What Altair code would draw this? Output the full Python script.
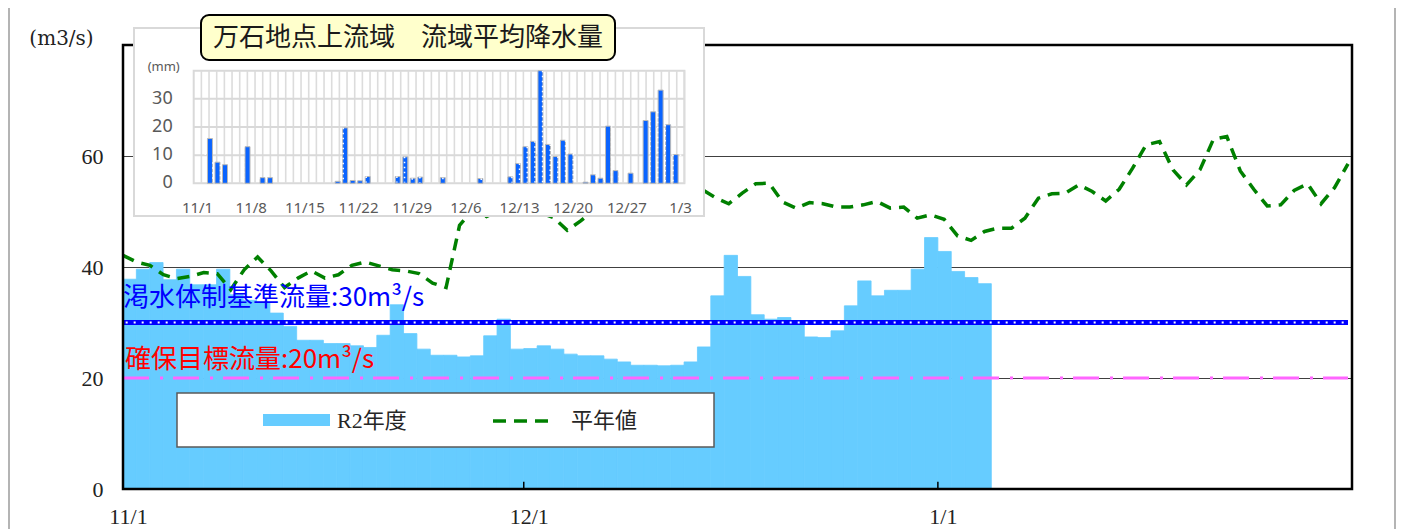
import altair as alt
import pandas as pd

W, H = 1229, 444

# ---- main chart data (daily flow, m3/s), 11/1 .. 1/4
flow_r2 = [37.8, 39.6, 40.8, 37.7, 39.6, 36.8, 36.8, 39.6, 35.0, 34.0,
           33.5, 31.7, 29.3, 26.8, 26.8, 26.2, 26.2, 25.8, 25.5, 27.7,
           33.2, 28.0, 25.2, 24.1, 24.1, 23.8, 24.0, 27.6, 30.6, 25.2,
           25.3, 25.8, 25.2, 24.3, 24.0, 24.0, 23.4, 22.9, 22.3, 22.3,
           22.2, 22.3, 22.9, 25.6, 34.8, 42.1, 38.3, 31.4, 30.6, 30.9,
           30.2, 27.4, 27.3, 28.5, 33.0, 37.5, 34.8, 35.8, 35.8, 39.6,
           45.3, 42.8, 39.2, 38.1, 37.0]

# ---- normal-year flow (平年値), 11/1 .. 1/31
normal = [42.1, 40.9, 40.3, 38.6, 37.9, 38.3, 39.0, 38.8, 35.9, 39.5,
          41.8, 39.3, 36.3, 38.0, 39.3, 38.0, 38.6, 40.3, 40.9, 40.2,
          39.5, 39.3, 38.8, 37.1, 36.3, 47.5, 50.3, 49.1, 50.2, 51.2,
          50.8, 49.8, 48.9, 46.6, 48.3, 50.3, 51.5, 52.0, 51.8, 52.6,
          53.4, 52.8, 53.6, 54.0, 52.5, 51.4, 53.3, 55.0, 55.1, 51.7,
          50.6, 51.6, 51.4, 50.8, 50.8, 51.2, 51.8, 50.6, 50.8, 48.8,
          49.4, 48.6, 45.6, 44.8, 46.4, 47.0, 47.0, 48.8, 52.4, 53.2,
          53.3, 54.8, 53.6, 51.9, 54.0, 57.8, 62.0, 62.6, 57.5, 54.8,
          57.5, 63.0, 63.5, 57.3, 54.0, 51.0, 51.2, 53.8, 55.0, 51.4,
          54.3, 58.6]

# ---- basin average rainfall (mm), 11/1 .. 1/3
rain = [0, 15.9, 7.5, 6.6, 0, 0, 13.0, 0, 2.0, 2.0,
        0, 0, 0, 0, 0, 0, 0, 0, 0.7, 19.7,
        1.0, 0.9, 2.4, 0, 0, 0, 2.4, 9.4, 1.8, 2.2,
        0, 0, 2.0, 0, 0, 0, 0, 1.7, 0, 0,
        0, 2.3, 7.0, 13.0, 14.9, 40.0, 13.8, 9.5, 15.3, 10.4,
        0, 0.4, 3.0, 1.8, 20.3, 4.5, 0, 3.6, 0, 22.3,
        25.4, 33.1, 20.8, 10.2]

x_tick_days = [0, 30, 61]
x_tick_labels = ["11/1", "12/1", "1/1"]
y_ticks = [0, 20, 40, 60]
thresholds = [30, 20]
threshold_labels = ["渇水体制基準流量:30m³/s", "確保目標流量:20m³/s"]
threshold_colors = ["#0000FF", "#FF0000"]
rain_label_days = [0, 7, 14, 21, 28, 35, 42, 49, 56, 63]
rain_labels = ["11/1", "11/8", "11/15", "11/22", "11/29", "12/6", "12/13", "12/20", "12/27", "1/3"]
rain_y_ticks = [0, 10, 20, 30]
legend_labels = ["R2年度", "平年値"]
inset_title = "万石地点上流域　流域平均降水量"

SERIF = "Liberation Serif, Noto Sans CJK JP"
SERIF_W = "DejaVu Serif"
SANS_JP = "Noto Sans CJK JP"
SANS = "Noto Sans, Open Sans"

bars_df = pd.DataFrame({"d": list(range(len(flow_r2))), "v": flow_r2})
normal_df = pd.DataFrame({"d": list(range(len(normal))), "v": normal})
rain_df = pd.DataFrame({"d": list(range(len(rain))), "v": rain})
ticks_df = pd.DataFrame({"d": x_tick_days})
thr_df = pd.DataFrame({"v": thresholds})
ann_df = pd.DataFrame({"label": threshold_labels, "c": threshold_colors,
                       "d": [0.0, 0.15], "v": [34.4, 23.2]})
rlab_df = pd.DataFrame({"d": rain_label_days, "label": rain_labels})
rtick_df = pd.DataFrame({"v": rain_y_ticks})
rgrid_df = pd.DataFrame({"v": rain_y_ticks[1:]})
one = pd.DataFrame({"a": [0]})

xs = alt.Scale(domain=[0, 92], nice=False, zero=False)
ys = alt.Scale(domain=[0, 80], nice=False)
xl = alt.Scale(domain=[0, len(normal) - 1], range=[0, 1225], nice=False, zero=False)
ix = alt.Scale(domain=[-0.5, len(rain) - 0.5], range=[70.7, 561.4], nice=False, zero=False)
iy = alt.Scale(domain=[0, 40], range=[138.3, 25.7], nice=False)


def XD(v, s):
    return alt.XDatum(v, scale=s, axis=None)


def YD(v, s):
    return alt.YDatum(v, scale=s, axis=None)


label_expr = " : ".join(
    f"datum.value == {d} ? '{l}'" for d, l in zip(x_tick_days, x_tick_labels)
) + " : ''"

# outer gray borders of the original picture
page_lines = alt.Chart(pd.DataFrame({"p": [-114, 1272]})).mark_rule(
    color="#b4b4b4", strokeWidth=2
).encode(x=alt.X("p:Q", scale=None, axis=None), y=alt.value(-37), y2=alt.value(H + 40))

bars = alt.Chart(bars_df).transform_calculate(d1="datum.d + 1").mark_rect(
    color="#66CCFF", stroke="#66CCFF", strokeWidth=0.8
).encode(
    x=alt.X("d:Q", scale=xs, axis=alt.Axis(
        values=x_tick_days, labelExpr=label_expr, grid=False, ticks=False, domain=False,
        labelFont=SERIF, labelFontSize=22, labelColor="#222222", labelPadding=17,
        labelOffset=5, labelFlush=False, title=None)),
    x2="d1:Q",
    y=alt.Y("v:Q", scale=ys, axis=alt.Axis(
        values=y_ticks, grid=True, gridColor="#404040", gridWidth=1, ticks=False,
        domain=False, labelFont=SERIF, labelFontSize=22, labelColor="#222222",
        labelPadding=20, labelFlush=False, title="(m3/s)", titleAngle=0, titleX=-62,
        titleY=-7, titleAlign="center", titleBaseline="middle", titleFont=SERIF_W,
        titleFontSize=20, titleFontWeight="normal", titleColor="#222222")),
    y2=alt.datum(0),
)

pink = alt.Chart(thr_df).transform_filter("datum.v == 20").mark_rule(
    color="#FF66FF", strokeWidth=3, strokeDash=[26, 11, 3, 10]
).encode(x=XD(0, xs), x2=alt.datum(91.7), y=alt.Y("v:Q", scale=ys, axis=None))

blue = alt.Chart(thr_df).transform_filter("datum.v == 30").mark_rule(
    color="#0000FF", strokeWidth=5
).encode(x=XD(0, xs), x2=alt.datum(91.7), y=alt.Y("v:Q", scale=ys, axis=None))
blue_dots = alt.Chart(thr_df).transform_filter("datum.v == 30").mark_rule(
    color="white", strokeWidth=2, strokeDash=[2, 6]
).encode(x=XD(0.2, xs), x2=alt.datum(91.7), y=alt.Y("v:Q", scale=ys, axis=None))

line = alt.Chart(normal_df).mark_line(
    color="#008000", strokeWidth=3.5, strokeDash=[12, 8]
).encode(x=alt.X("d:Q", scale=xl, axis=None), y=alt.Y("v:Q", scale=ys, axis=None))

ann = alt.Chart(ann_df).mark_text(
    align="left", baseline="middle", font=SANS_JP, fontSize=26
).encode(x=alt.X("d:Q", scale=xs, axis=None), y=alt.Y("v:Q", scale=ys, axis=None),
         text="label:N", color=alt.Color("c:N", scale=None))

frame = alt.Chart(one).mark_rect(
    fillOpacity=0, stroke="black", strokeWidth=2.5
).encode(x=XD(0, xs), x2=alt.datum(92), y=YD(0, ys), y2=alt.datum(80))

ticks = alt.Chart(ticks_df).mark_rule(color="black", strokeWidth=1.5).encode(
    x=alt.X("d:Q", scale=xs, axis=None), y=YD(0, ys), y2=alt.datum(1.3))

# legend
leg_box = alt.Chart(one).mark_rect(
    fill="white", stroke="#595959", strokeWidth=1.5
).encode(x=alt.value(54), x2=alt.value(591), y=alt.value(348), y2=alt.value(402))
leg_sw = alt.Chart(one).mark_rect(color="#66CCFF").encode(
    x=alt.value(140), x2=alt.value(207), y=alt.value(369), y2=alt.value(381))
leg_ln = alt.Chart(one).mark_rule(
    color="#008000", strokeWidth=3.5, strokeDash=[13, 8]
).encode(x=alt.value(370), x2=alt.value(431), y=alt.value(376))
leg_txt = alt.Chart(pd.DataFrame({"label": legend_labels, "px": [214, 448]})).mark_text(
    align="left", baseline="middle", font=SERIF, fontSize=22, color="#262626"
).encode(x=alt.X("px:Q", scale=None, axis=None), y=alt.value(376), text="label:N")

# inset
in_frame = alt.Chart(one).mark_rect(
    fill="white", stroke="#d9d9d9", strokeWidth=2
).encode(x=alt.value(11), x2=alt.value(581), y=alt.value(-17), y2=alt.value(171))
in_plot = alt.Chart(one).mark_rect(
    fill="white", stroke="#d9d9d9", strokeWidth=2
).encode(x=XD(-0.5, ix), x2=alt.datum(len(rain) - 0.5), y=YD(0, iy), y2=alt.datum(40))
in_vgrid = alt.Chart(rain_df).transform_calculate(b="datum.d + 0.5").mark_rule(
    color="#dcdcdc", strokeWidth=1.6
).encode(x=alt.X("b:Q", scale=ix, axis=None), y=YD(0, iy), y2=alt.datum(40))
in_hgrid = alt.Chart(rgrid_df).mark_rule(color="#d9d9d9", strokeWidth=2).encode(
    x=XD(-0.5, ix), x2=alt.datum(len(rain) - 0.5), y=alt.Y("v:Q", scale=iy, axis=None))
in_bars = alt.Chart(rain_df).transform_filter("datum.v > 0").mark_bar(
    size=5, color="#0A64FF", stroke="#b8b8b8", strokeWidth=1
).encode(x=alt.X("d:Q", scale=ix, axis=None), y=alt.Y("v:Q", scale=iy, axis=None))
in_dots = alt.Chart(rain_df).transform_filter("datum.v > 1.2").mark_rule(
    color="white", strokeWidth=1.5, strokeDash=[1.5, 3.5]
).encode(x=alt.X("d:Q", scale=ix, axis=None), y=alt.Y("v:Q", scale=iy, axis=None),
         y2=alt.datum(0.3))
in_xlab = alt.Chart(rlab_df).mark_text(
    baseline="middle", font=SANS, fontSize=15, color="#595959", dy=25
).encode(x=alt.X("d:Q", scale=ix, axis=None), y=YD(0, iy), text="label:N")
in_ylab = alt.Chart(rtick_df).mark_text(
    align="right", baseline="middle", font=SANS, fontSize=18, color="#595959", dx=-21
).encode(x=XD(-0.5, ix), y=alt.Y("v:Q", scale=iy, axis=None), text="v:Q")
in_unit = alt.Chart(pd.DataFrame({"label": ["(mm)"]})).mark_text(
    align="center", baseline="middle", font=SANS, fontSize=13, color="#595959",
    dx=-30, dy=-4
).encode(x=XD(-0.5, ix), y=YD(40, iy), text="label:N")
in_tbox = alt.Chart(one).mark_rect(
    fill="#FFFFCC", stroke="black", strokeWidth=2, cornerRadius=8
).encode(x=alt.value(78), x2=alt.value(492), y=alt.value(-30), y2=alt.value(15))
in_title = alt.Chart(pd.DataFrame({"label": [inset_title]})).mark_text(
    align="center", baseline="middle", font=SANS_JP, fontSize=26, color="#1a1a1a"
).encode(x=alt.value(285), y=alt.value(-7), text="label:N")

chart = alt.layer(
    page_lines, bars, pink, blue, blue_dots, line, ann, leg_box, leg_sw, leg_ln, leg_txt,
    ticks, frame,
    in_frame, in_plot, in_vgrid, in_hgrid, in_bars, in_dots, in_xlab, in_ylab, in_unit,
    in_tbox, in_title,
).resolve_scale(x="independent", y="independent").properties(
    width=W, height=H,
    padding={"left": 115, "top": 37, "right": 45, "bottom": 40},
    autosize=alt.AutoSizeParams(type="none"),
    background="white",
).configure_view(stroke=None)

chart.save("out.html", embed_options={"renderer": "svg", "actions": False})
